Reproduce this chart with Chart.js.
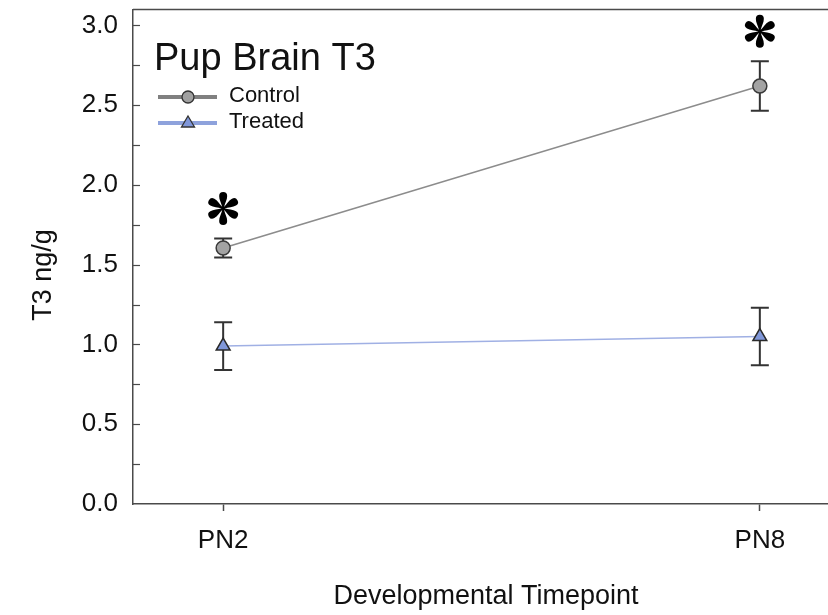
<!DOCTYPE html>
<html>
<head>
<meta charset="utf-8">
<script src="https://cdn.jsdelivr.net/npm/chart.js@4"></script>
<style>
  body { margin: 0; overflow: hidden; background: #fff; }
  #wrap { width: 828px; height: 615px; overflow: hidden; }
</style>
</head>
<body>
<div id="wrap"><canvas id="chart" width="860" height="615"></canvas></div>
<script>
const timepoints = ['PN2', 'PN8'];
const controlMean = [1.605, 2.62];
const controlErr = [0.06, 0.155];
const treatedMean = [0.99, 1.05];
const treatedErr = [0.15, 0.18];
const significant = [true, true]; // control vs treated at each timepoint
const yTicks = [0, 0.25, 0.5, 0.75, 1, 1.25, 1.5, 1.75, 2, 2.25, 2.5, 2.75, 3];

const FONT = '"Liberation Sans", Arial, sans-serif';
const AXIS = '#4a4a4a';

function pts(arr) { return arr.map((v, i) => ({ x: i, y: v })); }

const errors = [controlErr, treatedErr];

// six teardrop petals, like the plotting program's asterisk
function asterisk(ctx, cx, cy) {
  for (let k = 0; k < 6; k++) {
    ctx.save();
    ctx.translate(cx, cy);
    ctx.rotate(k * Math.PI / 3);
    ctx.beginPath();
    ctx.moveTo(-0.8, -1);
    ctx.bezierCurveTo(-1.6, -5, -4.2, -9, -4, -12.5);
    ctx.arc(0, -12.5, 4, Math.PI, 0);
    ctx.bezierCurveTo(4.2, -9, 1.6, -5, 0.8, -1);
    ctx.closePath();
    ctx.fill();
    ctx.restore();
  }
  ctx.beginPath();
  ctx.arc(cx, cy, 1.8, 0, Math.PI * 2);
  ctx.fill();
}

const extras = {
  id: 'extras',
  beforeDatasetsDraw(chart) {
    const ctx = chart.ctx, xs = chart.scales.x, ys = chart.scales.y;
    ctx.save();
    ctx.strokeStyle = '#333';
    ctx.lineWidth = 2;
    chart.data.datasets.forEach((ds, d) => {
      ds.data.forEach((p, i) => {
        const x = xs.getPixelForValue(p.x);
        const top = ys.getPixelForValue(p.y + errors[d][i]);
        const bot = ys.getPixelForValue(p.y - errors[d][i]);
        ctx.beginPath();
        ctx.moveTo(x, top); ctx.lineTo(x, bot);
        ctx.moveTo(x - 9, top); ctx.lineTo(x + 9, top);
        ctx.moveTo(x - 9, bot); ctx.lineTo(x + 9, bot);
        ctx.stroke();
      });
    });
    ctx.restore();
  },
  afterDraw(chart) {
    const ctx = chart.ctx, xs = chart.scales.x, ys = chart.scales.y;
    const a = chart.chartArea;
    ctx.save();
    // top frame line
    ctx.strokeStyle = AXIS;
    ctx.lineWidth = 1.5;
    ctx.beginPath();
    ctx.moveTo(a.left, a.top); ctx.lineTo(a.right, a.top);
    ctx.stroke();
    // inward y ticks
    ctx.lineWidth = 1.2;
    yTicks.forEach(v => {
      if (v === 0) return;
      const y = Math.round(ys.getPixelForValue(v)) + 0.5;
      ctx.beginPath();
      ctx.moveTo(a.left, y); ctx.lineTo(a.left + 7, y);
      ctx.stroke();
    });

    // asterisks above control error bars
    ctx.fillStyle = '#000';
    significant.forEach((s, i) => {
      if (!s) return;
      const cx = xs.getPixelForValue(i);
      const cy = ys.getPixelForValue(controlMean[i] + controlErr[i]) - 30;
      asterisk(ctx, cx, cy);
    });

    // title
    ctx.fillStyle = '#111';
    ctx.textBaseline = 'alphabetic';
    ctx.textAlign = 'left';
    ctx.font = '38px ' + FONT;
    ctx.fillText('Pup Brain T3', 154, 70);

    // legend
    const rows = [
      { y: 97, label: 'Control', line: '#808080', fill: '#a0a0a0', shape: 'circle' },
      { y: 123, label: 'Treated', line: '#8ea2dc', fill: '#8097d9', shape: 'triangle' }
    ];
    rows.forEach(r => {
      ctx.strokeStyle = r.line;
      ctx.lineWidth = 4;
      ctx.beginPath();
      ctx.moveTo(158, r.y); ctx.lineTo(217, r.y);
      ctx.stroke();
      ctx.fillStyle = r.fill;
      ctx.strokeStyle = '#333';
      ctx.lineWidth = 1.3;
      ctx.beginPath();
      if (r.shape === 'circle') {
        ctx.arc(188, r.y, 6, 0, Math.PI * 2);
      } else {
        ctx.moveTo(188, r.y - 7); ctx.lineTo(194.5, r.y + 4); ctx.lineTo(181.5, r.y + 4); ctx.closePath();
      }
      ctx.fill(); ctx.stroke();
      ctx.fillStyle = '#111';
      ctx.font = '22px ' + FONT;
      ctx.textBaseline = 'middle';
      ctx.fillText(r.label, 229, r.y - 1);
    });

    // axis titles
    ctx.font = '27px ' + FONT;
    ctx.textAlign = 'center';
    ctx.textBaseline = 'middle';
    ctx.fillText('Developmental Timepoint', 486, 597);
    ctx.translate(44, 275);
    ctx.rotate(-Math.PI / 2);
    ctx.fillText('T3 ng/g', 0, 0);
    ctx.restore();
  }
};

new Chart(document.getElementById('chart'), {
  type: 'line',
  data: {
    datasets: [{
      label: 'Control',
      data: pts(controlMean),
      borderColor: '#8c8c8c',
      borderWidth: 1.5,
      pointStyle: 'circle',
      pointRadius: 7,
      pointBackgroundColor: '#a3a3a3',
      pointBorderColor: '#3a3a3a',
      pointBorderWidth: 1.5
    }, {
      label: 'Treated',
      data: pts(treatedMean),
      borderColor: '#a0b0e4',
      borderWidth: 1.5,
      pointStyle: 'triangle',
      pointRadius: 8,
      pointBackgroundColor: '#8097d9',
      pointBorderColor: '#2a2a2a',
      pointBorderWidth: 1.5
    }]
  },
  options: {
    responsive: false,
    animation: false,
    layout: { padding: { top: 8, right: 10, left: 0, bottom: 0 } },
    plugins: { legend: { display: false }, tooltip: { enabled: false } },
    scales: {
      x: {
        type: 'linear',
        min: -0.168,
        max: 1.168,
        afterBuildTicks: s => { s.ticks = timepoints.map((t, i) => ({ value: i })); },
        afterFit: s => { s.height = 111; s.paddingLeft = 0; s.paddingRight = 0; },
        grid: { display: true, drawOnChartArea: false, drawTicks: true, tickLength: 7, tickColor: AXIS, tickWidth: 1.5 },
        border: { display: true, color: AXIS, width: 1.5 },
        ticks: {
          color: '#111',
          font: { family: FONT, size: 26 },
          padding: 14,
          callback: v => timepoints[v]
        }
      },
      y: {
        min: 0,
        max: 3.1,
        afterBuildTicks: s => { s.ticks = yTicks.map(v => ({ value: v })); },
        afterFit: s => { s.width = 133; s.paddingTop = 0; s.paddingBottom = 0; },
        grid: { display: true, drawOnChartArea: false, drawTicks: false },
        border: { display: true, color: AXIS, width: 1.5 },
        ticks: {
          color: '#111',
          font: { family: FONT, size: 26 },
          padding: 15,
          callback: v => (Math.round(v * 2) === v * 2 ? v.toFixed(1) : '')
        }
      }
    }
  },
  plugins: [extras]
});
</script>
</body>
</html>
